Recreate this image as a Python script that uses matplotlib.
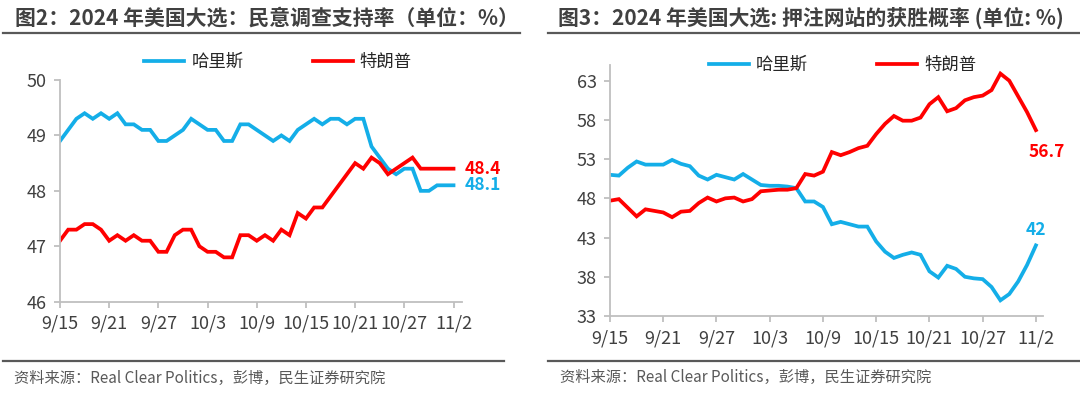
import matplotlib
matplotlib.use('Agg')
import matplotlib.pyplot as plt
from matplotlib.lines import Line2D
import numpy as np
import pandas as pd

plt.rcParams['font.family'] = ['Noto Sans CJK SC', 'DejaVu Sans']

# ---------------- data ----------------
dates = [f"{d.month}/{d.day}" for d in pd.date_range("2024-09-15", "2024-11-02", freq="D")]
tick_labels = ["9/15", "9/21", "9/27", "10/3", "10/9", "10/15", "10/21", "10/27", "11/2"]

series_names = ["哈里斯", "特朗普"]

# 图2: polling support (%)
poll_harris = [48.9, 49.1, 49.3, 49.4, 49.3, 49.4, 49.3, 49.4, 49.2, 49.2,
               49.1, 49.1, 48.9, 48.9, 49.0, 49.1, 49.3, 49.2, 49.1, 49.1,
               48.9, 48.9, 49.2, 49.2, 49.1, 49.0, 48.9, 49.0, 48.9, 49.1,
               49.2, 49.3, 49.2, 49.3, 49.3, 49.2, 49.3, 49.3, 48.8, 48.6,
               48.4, 48.3, 48.4, 48.4, 48.0, 48.0, 48.1, 48.1, 48.1]
poll_trump = [47.1, 47.3, 47.3, 47.4, 47.4, 47.3, 47.1, 47.2, 47.1, 47.2,
              47.1, 47.1, 46.9, 46.9, 47.2, 47.3, 47.3, 47.0, 46.9, 46.9,
              46.8, 46.8, 47.2, 47.2, 47.1, 47.2, 47.1, 47.3, 47.2, 47.6,
              47.5, 47.7, 47.7, 47.9, 48.1, 48.3, 48.5, 48.4, 48.6, 48.5,
              48.3, 48.4, 48.5, 48.6, 48.4, 48.4, 48.4, 48.4, 48.4]

# 图3: betting-site win probability (%)
bet_harris = [51.0, 50.9, 51.9, 52.7, 52.3, 52.3, 52.3, 52.9, 52.4, 52.1,
              50.9, 50.4, 51.0, 50.7, 50.4, 51.1, 50.4, 49.7, 49.6, 49.6,
              49.5, 49.3, 47.6, 47.6, 46.9, 44.7, 45.0, 44.7, 44.4, 44.4,
              42.5, 41.2, 40.4, 40.8, 41.1, 40.8, 38.7, 37.9, 39.4, 39.0,
              38.0, 37.8, 37.7, 36.7, 35.0, 35.8, 37.4, 39.5, 42.0]
bet_trump = [47.7, 47.9, 46.8, 45.7, 46.6, 46.4, 46.2, 45.6, 46.3, 46.4,
             47.4, 48.1, 47.6, 48.0, 48.1, 47.6, 47.9, 48.9, 49.0, 49.1,
             49.1, 49.3, 51.1, 50.9, 51.4, 53.9, 53.5, 53.9, 54.4, 54.7,
             56.2, 57.5, 58.5, 57.9, 57.9, 58.3, 60.0, 60.9, 59.1, 59.5,
             60.5, 60.9, 61.1, 61.8, 63.9, 63.0, 61.0, 59.0, 56.7]

poll_ticks = [46, 47, 48, 49, 50]
bet_ticks = [33, 38, 43, 48, 53, 58, 63]

# ---------------- style ----------------
BLUE = '#14AEE8'
RED = '#FF0000'
TXT = '#404040'
AX = '#BFBFBF'

W, H = 1080, 397
fig = plt.figure(figsize=(W / 100, H / 100), dpi=100)


def fx(px):
    return px / W


def fy(py):
    return 1 - py / H


def style_axes(ax, ylim, yticks, xmax):
    x = np.arange(len(dates))
    ax.set_xlim(0, xmax)
    ax.set_ylim(*ylim)
    ax.set_yticks(yticks)
    ax.set_xticks([dates.index(t) for t in tick_labels])
    ax.set_xticklabels(tick_labels)
    for s in ['top', 'right']:
        ax.spines[s].set_visible(False)
    for s in ['left', 'bottom']:
        ax.spines[s].set_color(AX)
        ax.spines[s].set_linewidth(1.3)
    ax.tick_params(axis='both', colors=AX, labelcolor=TXT, labelsize=13,
                   length=4.5, width=1.3, direction='out')
    ax.tick_params(axis='x', pad=5)
    ax.tick_params(axis='y', pad=5)
    return x


# ---------------- left chart ----------------
axL = fig.add_axes([fx(60), fy(301.7), fx(401.7), (301.7 - 80) / H])
x = style_axes(axL, (46, 50), poll_ticks, 49.0)
axL.plot(x, poll_harris, color=BLUE, lw=2.7, label=series_names[0], solid_joinstyle='miter')
axL.plot(x, poll_trump, color=RED, lw=2.7, label=series_names[1], solid_joinstyle='miter')
axL.annotate(f"{poll_trump[-1]}", (x[-1], poll_trump[-1]), xytext=(8, 0),
             textcoords='offset points', ha='left', va='center', color=RED,
             fontsize=12.5, fontweight='bold', annotation_clip=False)
axL.annotate(f"{poll_harris[-1]}", (x[-1], poll_harris[-1]), xytext=(8, 0),
             textcoords='offset points', ha='left', va='center', color=BLUE,
             fontsize=12.5, fontweight='bold', annotation_clip=False)
legL = axL.legend(loc='center', bbox_to_anchor=(0.543, 1.081), ncol=2, frameon=False,
                  fontsize=12.5, handlelength=2.3, handletextpad=0.4, columnspacing=4.0)
for t in legL.get_texts():
    t.set_color('#262626')

# ---------------- right chart ----------------
axR = fig.add_axes([fx(610), fy(316), fx(433), (316 - 65) / H])
x = style_axes(axR, (33, 65), bet_ticks, 48.8)
axR.plot(x, bet_harris, color=BLUE, lw=2.7, label=series_names[0], solid_joinstyle='miter')
axR.plot(x, bet_trump, color=RED, lw=2.7, label=series_names[1], solid_joinstyle='miter')
axR.annotate(f"{bet_trump[-1]}", (x[-1], bet_trump[-1]), xytext=(8, -16),
             textcoords='offset points', ha='center', va='center', color=RED,
             fontsize=12.5, fontweight='bold', annotation_clip=False)
axR.annotate(f"{bet_harris[-1]:g}", (x[-1], bet_harris[-1]), xytext=(0, 11),
             textcoords='offset points', ha='center', va='center', color=BLUE,
             fontsize=12.5, fontweight='bold', annotation_clip=False)
legR = axR.legend(loc='center', bbox_to_anchor=(0.537, 1.0), ncol=2, frameon=False,
                  fontsize=12.5, handlelength=2.3, handletextpad=0.4, columnspacing=4.0)
for t in legR.get_texts():
    t.set_color('#262626')

# ---------------- titles, rules, sources ----------------
fig.text(fx(15), fy(18), "图2：2024 年美国大选：民意调查支持率（单位：%）",
         fontsize=15, fontweight='bold', color=TXT, ha='left', va='center')
fig.text(fx(558), fy(18), "图3：2024 年美国大选: 押注网站的获胜概率 (单位: %)",
         fontsize=15, fontweight='bold', color=TXT, ha='left', va='center')
for x0, x1 in [(3, 520), (548, 1080)]:
    fig.add_artist(Line2D([fx(x0), fx(x1)], [fy(33), fy(33)], color='#595959', lw=1.6))
for x0, x1 in [(3, 504), (548, 1080)]:
    fig.add_artist(Line2D([fx(x0), fx(x1)], [fy(361), fy(361)], color='#595959', lw=1.6))
fig.text(fx(14), fy(378), "资料来源：Real Clear Politics，彭博，民生证券研究院",
         fontsize=11, color='#595959', ha='left', va='center')
fig.text(fx(560), fy(377), "资料来源：Real Clear Politics，彭博，民生证券研究院",
         fontsize=11, color='#595959', ha='left', va='center')

fig.savefig('out.png', dpi=100)
